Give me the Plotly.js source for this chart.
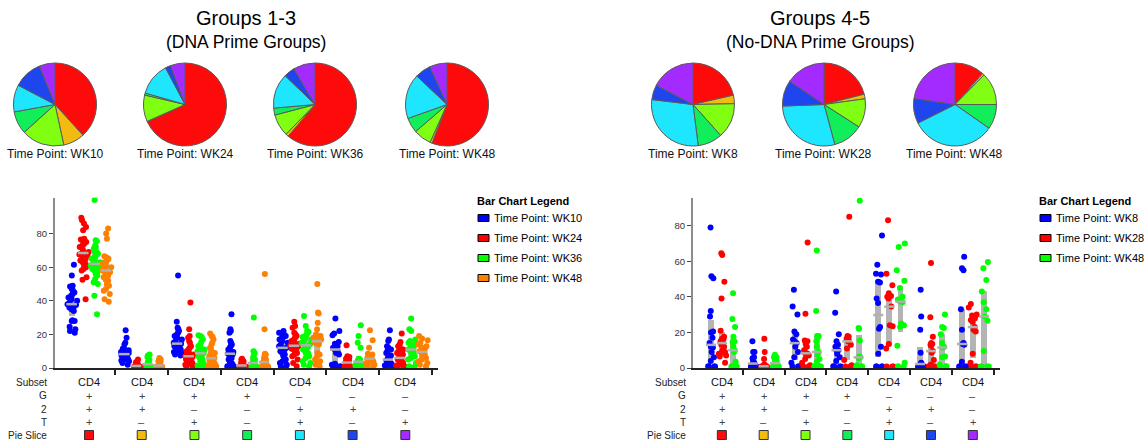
<!DOCTYPE html>
<html><head><meta charset="utf-8">
<script src="https://cdn.plot.ly/plotly-3.0.1.min.js"></script>
<style>html,body{margin:0;padding:0;background:#fff}#chart{width:1145px;height:446px}</style>
</head><body><div id="chart"></div>
<script>
// ---------- categories / table ----------
const subsets = ['CD4','CD4','CD4','CD4','CD4','CD4','CD4'];
const gRow   = ['+','+','+','+','–','–','–'];
const twoRow = ['+','+','–','–','+','+','–'];
const tRow   = ['+','–','+','–','+','–','+'];
const sliceLabels = ['G+2+T+','G+2+T–','G+2–T+','G+2–T–','G–2+T+','G–2+T–','G–2–T+'];
const sliceColors = ['#ff0a0a','#f2bb0f','#80ff12','#12ee5a','#1ee6ff','#1f45ee','#a32bff'];

// ---------- pies ----------
const leftPieNames = ['Time Point: WK10','Time Point: WK24','Time Point: WK36','Time Point: WK48'];
const leftPieWK10 = [38.2, 8.3, 16.7, 8.8, 10.5, 11.2, 6.1];
const leftPieWK24 = [68.4, 0.2, 10.4, 0.8, 12.8, 2.1, 5.7];
const leftPieWK36 = [61.2, 1.1, 8.6, 2.7, 13.6, 4.3, 8.5];
const leftPieWK48 = [56.0, 0.8, 7.0, 5.9, 17.5, 6.2, 6.8];
const rightPieNames = ['Time Point: WK8','Time Point: WK28','Time Point: WK48'];
const rightPieWK8  = [21.4, 3.3, 13.7, 9.6, 28.9, 5.8, 17.3];
const rightPieWK28 = [21.0, 1.8, 11.3, 11.7, 28.6, 10.1, 15.5];
const rightPieWK48 = [11.6, 0.8, 12.6, 9.7, 32.9, 9.7, 22.7];

// ---------- scatter series (per category) ----------
const leftSeriesNames = ['Time Point: WK10','Time Point: WK24','Time Point: WK36','Time Point: WK48'];
const leftSeriesColors = ['#0000ff','#ff0000','#00ff00','#ff8000'];
const leftWK10 = [
  [61.5,55,49,48.5,47,46,45,44,43,42,41,40,39,38,37.5,37,36.5,36,35,34,28.5,28,28,24.5,23,22,21],
  [22.5,18,15,14,11.5,11,10.5,10,9.5,9,8.5,8,7.5,7,6.5,6,5.5,5,4.5,4,3,2],
  [55,27.5,24,23,22,21,20,19,18,17,16,15,14.5,14,13.5,13,12.5,12,11.5,11,10,9.5,9,8,7.5],
  [32,23,22,21,16,15,14,13,12,11,10,9.5,9,8.5,8,7,6,5,4,3,2.5,2,1.5,1,0.8,0.8,0.8],
  [22,21,20.5,20,19,18.5,18,17,16,15,14,13,12,11.5,11,10,9,8,7,5,4,3,2,1,0.8],
  [29.5,22,20.5,19.5,15.5,14.5,13,12,11,10,9,8,2.5,2,1,0.8,0.8],
  [22.5,17,16,13,12,11,10,9,7.5,6,5,4.5,4,3.5,3,2.5,2,1.5,1,0.8,0.8]
];
const leftWK24 = [
  [89.5,88,86,84,82,77,76.5,76,75.5,75,74,73,72,70,69,68,67.5,67,66,65,64,63,62,61,60,59,58,54,52.5,41],
  [5,3.5,3,2.5,2,2,1.5,1.5,1,1,1,0.8,0.8,0.8,0.8,0.8],
  [39,23,19,18,16,15,13,12,11,10,9,8,7.5,7,6.5,6,5.5,5,4.5,4,3.5,3,2.5,2,1.5,1,0.8],
  [5.5,5,4.5,4,3.5,3,2.5,2,2,1.5,1.5,1,1,0.8,0.8,0.8,0.8,0.8,0.8],
  [27.5,25,24,21,20,19,18,17,16,15,14.5,14,13.5,13,12.5,12,11.5,11,10.5,10,9,8,7,5,3,1],
  [13.5,7,6.5,6,5.5,5,4.5,4,3.5,3,2.5,2,1.5,1,1,0.8,0.8,0.8],
  [20.5,15.5,14,13,12,11,10,9,8,7,6,5,4.5,4,3.5,3,2,1.5,1,0.8,0.8]
];
const leftWK36 = [
  [100,76,75.5,73,72,71,70,69,68,67,66,65,64,63,62,61,60.5,60,59.5,59,58,57,56,55,53,51,50,43,32],
  [8,7.5,6.5,5,4,3.5,3,2.5,2,1.5,1,1,0.8,0.8,0.8,0.8],
  [19.5,19,18.5,17,15.5,14,13,12,11,10.5,10,9,8.5,8,7,6,5,4,3,2,1.5,1,0.8,0.8],
  [30,10,9.5,9,7,6,5,4,3.5,3,2.5,2,1.5,1,1,0.8,0.8,0.8,0.8],
  [31,25,22,21.5,20,19,18.5,18,17,16,15,14,13,12.5,11,10,9,8,7,6,4,3,2,1],
  [25.5,19,15,12,5.5,5,4.5,4,3.5,3,2.5,2,1.5,1,0.8,0.8],
  [29.5,23,22,17,16,15,14,13,12,11,10,9,8,7,6,5,3,1,0.8]
];
const leftWK48 = [
  [83,80,77,66.5,66,65.5,65,64,63,62,61,60,59,58,57,56,55,54,53,52,50,49,47,46,44,41,39.5],
  [6,5,4.5,4,3.5,3,2.5,2,1.5,1.5,1,1,0.8,0.8,0.8,0.8,0.8],
  [20.5,19,18.5,17,15,14,12,10,9,8,7,6,5.5,5,4.5,4,3.5,3,2.5,2,1.5,1,0.8,0.8],
  [56,23,8.5,8,7,6,5,4.5,4,3.5,3,2.5,2,1.5,1,1,0.8,0.8,0.8],
  [50,33,32.5,27,23,20,19.5,19,18.5,18,17,16,15.5,15,14.5,14,9,8,7,5,4,2,1],
  [22.5,16.5,12,8.5,8,7,6.5,6,5.5,5,4.5,4,3.5,3,2,1,0.8],
  [19,17.5,16.5,15,14,13,12,11,10,9,8,7,6,5,4,3,2,1]
];

const rightSeriesNames = ['Time Point: WK8','Time Point: WK28','Time Point: WK48'];
const rightSeriesColors = ['#0000ff','#ff0000','#00ff00'];
const rightWK8 = [
  [79,51.5,50.5,32,29,20.5,20,17,14,12,11.5,9,6,4,1,0.8,0.8,0.8],
  [15,9,9,6,5.5,4,3,2,1.5,1,0.8,0.8,0.8,0.8],
  [44,34.5,30,20.5,19,16,15,14,12,9,6,3,1,0.8,0.8],
  [43,31,19,15,13,12,10,10,8,6,4,1,0.8,0.8,0.8],
  [74.5,58,53,52.5,48.5,48,39,36.5,23,22,12,8,0.8,0.8,0.8,0.8],
  [44,29,21.5,8.5,3,2.5,2,1.5,1,0.8,0.8,0.8],
  [62.5,56,55,33,21.5,14,13.5,13,3.5,0.8,0.8,0.8,0.8]
];
const rightWK28 = [
  [64.5,63.5,48.5,39,21,17.5,16.5,16,15,13,12,10,9,8.5,8,7,6.5,3],
  [16.5,9,5,2,1.5,1,1,0.8,0.8,0.8,0.8,0.8],
  [70.5,30.5,15.5,15,13.5,12,10,8.5,8,7.5,7,5,3,1.5,0.8,0.8],
  [85,18,17.5,16.5,16,15.5,15,13,11,4.5,1.5,0.8,0.8],
  [83,53,46.5,42,40.5,40,39,34.5,24,23.5,13.5,11,0.8,0.8,0.8],
  [59,28.5,17.5,14,13.5,13,12.5,9.5,8.5,4.5,2,1,0.8,0.8,0.8],
  [36,34,30,29.5,28,27,26,23,21.5,20.5,8,3,0.8,0.8,0.8]
];
const rightWK48 = [
  [42,27.5,23,17.5,15,14.5,12,10,9,3.5,1,0.8,0.8,0.8,0.8],
  [7.5,6,6,5,4,3.5,2,1,0.8,0.8,0.8,0.8],
  [66,32,18,18,17.5,15,12,9,7.5,5,3.5,1,0.8,0.8,0.8],
  [94,22.5,22,15.5,6.5,6,5.5,1.5,0.8,0.8,0.8],
  [70,68,55,49,45,40,38.5,37.5,37,25,24,23,12.5,3,1,0.8],
  [30,23,22.5,19,14,12,11.5,6.5,6,2,1,0.8,0.8],
  [59.5,56,49.5,43,37,33,29,26.5,9.5,0.8,0.8,0.8,0.8]
];
const yTicks = [0,20,40,60,80];

// ---------- helpers ----------
const W = 1145, H = 446;
const px = x => x / W;
const py = y => 1 - y / H;
function quantile(arr, p) {
  const s = arr.slice().sort((a,b)=>a-b);
  const idx = p * (s.length - 1);
  const lo = Math.floor(idx), hi = Math.ceil(idx);
  return s[lo] + (s[hi] - s[lo]) * (idx - lo);
}

const traces = [];
const annotations = [];
const shapes = [];
const FONT = 'Liberation Sans, Arial, sans-serif';

// pies
function addPies(valueSets, names, centersX) {
  valueSets.forEach((vals, i) => {
    const cx = centersX[i], cy = 104.5, r = 41.5;
    traces.push({
      type: 'pie', values: vals, labels: sliceLabels, sort: false,
      direction: 'clockwise', rotation: 0,
      marker: {colors: sliceColors, line: {color: '#5a5a5a', width: 1}},
      textinfo: 'none', hoverinfo: 'label+percent', showlegend: false,
      domain: {x: [px(cx - r), px(cx + r)], y: [py(cy + r), py(cy - r)]}
    });
    annotations.push({
      xref: 'paper', yref: 'paper', x: px(cx), y: py(154), text: names[i],
      showarrow: false, xanchor: 'center', yanchor: 'middle',
      font: {size: 12, color: '#111', family: FONT}
    });
  });
}
addPies([leftPieWK10, leftPieWK24, leftPieWK36, leftPieWK48], leftPieNames, [55, 185, 315, 447]);
addPies([rightPieWK8, rightPieWK28, rightPieWK48], rightPieNames, [693, 824, 955]);

// scatter groups
function addGroups(seriesSets, colors, offsets, xa, ya, ptWidth, barWidth, medHalf) {
  const barX = [], barBase = [], barLen = [];
  const medX = [], medY = [];
  seriesSets.forEach((series, s) => {
    series.forEach((vals, c) => {
      const pos = c + offsets[s];
      const q1 = quantile(vals, 0.25), q3 = quantile(vals, 0.75), m = quantile(vals, 0.5);
      barX.push(pos - 0.02); barBase.push(q1); barLen.push(Math.max(q3 - q1, 0.3));
      medX.push(pos - 0.02 - medHalf, pos - 0.02 + medHalf, null);
      medY.push(m, m, null);
    });
  });
  traces.push({type: 'bar', x: barX, y: barLen, base: barBase, width: barWidth,
    marker: {color: '#b4b4b4', line: {width: 0}}, xaxis: xa, yaxis: ya,
    showlegend: false, hoverinfo: 'skip'});
  seriesSets.forEach((series, s) => {
    series.forEach((vals, c) => {
      traces.push({
        type: 'box', y: vals, x0: c + offsets[s], width: ptWidth,
        boxpoints: 'all', jitter: 1, pointpos: 0,
        fillcolor: 'rgba(0,0,0,0)', line: {width: 0, color: 'rgba(0,0,0,0)'}, whiskerwidth: 0,
        marker: {color: colors[s], size: 6, line: {width: 0}},
        xaxis: xa, yaxis: ya, showlegend: false, hoverinfo: 'y'
      });
    });
  });
  traces.push({type: 'scatter', mode: 'lines', x: medX, y: medY,
    line: {color: '#b0b0b0', width: 2.5}, xaxis: xa, yaxis: ya,
    showlegend: false, hoverinfo: 'skip', connectgaps: false});
}
addGroups([leftWK10, leftWK24, leftWK36, leftWK48], leftSeriesColors,
  [-0.31, -0.09, 0.13, 0.34], 'x', 'y', 0.2, 0.11, 0.1);
addGroups([rightWK8, rightWK28, rightWK48], rightSeriesColors,
  [-0.24, 0.02, 0.29], 'x2', 'y2', 0.24, 0.14, 0.12);

// titles
[[246, 'Groups 1-3', '(DNA Prime Groups)'], [820, 'Groups 4-5', '(No-DNA Prime Groups)']].forEach(t => {
  annotations.push({xref:'paper', yref:'paper', x: px(t[0]), y: py(18), text: t[1], showarrow:false,
    xanchor:'center', yanchor:'middle', font:{size:20, color:'#000', family: FONT}});
  annotations.push({xref:'paper', yref:'paper', x: px(t[0]), y: py(42), text: t[2], showarrow:false,
    xanchor:'center', yanchor:'middle', font:{size:17.5, color:'#000', family: FONT}});
});

// table under each chart
const rowY = [382, 395.5, 409, 422, 435];
const rowLabels = ['Subset','G','2','T','Pie Slice'];
function addTable(xa, labelRightPx, halfSq) {
  rowLabels.forEach((lab, r) => {
    annotations.push({xref:'paper', yref:'paper', x: px(labelRightPx), y: py(rowY[r]), text: lab,
      showarrow:false, xanchor:'right', yanchor:'middle', font:{size:10, color:'#222', family: FONT}});
  });
  for (let c = 0; c < subsets.length; c++) {
    const rows = [subsets[c], gRow[c], twoRow[c], tRow[c]];
    rows.forEach((txt, r) => {
      annotations.push({xref: xa, yref:'paper', x: c, y: py(rowY[r]), text: txt, showarrow:false,
        xanchor:'center', yanchor:'middle',
        font:{size: r === 0 ? 11 : 11, color: r === 0 ? '#111' : '#444', family: FONT}});
    });
    shapes.push({type:'rect', xref: xa, yref:'paper', x0: c - halfSq, x1: c + halfSq,
      y0: py(rowY[4] + 4.5), y1: py(rowY[4] - 4.5),
      fillcolor: sliceColors[c], line:{color:'#333', width:1}});
  }
}
addTable('x', 49, 0.085);
addTable('x2', 688, 0.108);

// custom legends
function addLegend(leftPx, names, colors) {
  annotations.push({xref:'paper', yref:'paper', x: px(leftPx), y: py(201), text: '<b>Bar Chart Legend</b>',
    showarrow:false, xanchor:'left', yanchor:'middle', font:{size:11, color:'#000', family: FONT}});
  names.forEach((n, i) => {
    const yc = 218 + i * 20;
    shapes.push({type:'rect', xref:'paper', yref:'paper', x0: px(leftPx + 3), x1: px(leftPx + 14),
      y0: py(yc + 3.5), y1: py(yc - 3.5), fillcolor: colors[i], line:{color:'#000', width:1}});
    annotations.push({xref:'paper', yref:'paper', x: px(leftPx + 17), y: py(yc), text: n,
      showarrow:false, xanchor:'left', yanchor:'middle', font:{size:11, color:'#000', family: FONT}});
  });
}
addLegend(475, leftSeriesNames, leftSeriesColors);
addLegend(1037, rightSeriesNames, rightSeriesColors);

const xCommon = {showgrid:false, zeroline:false, showline:true, linecolor:'#222', linewidth:2,
  ticks:'outside', ticklen:5, tickwidth:2, tickcolor:'#222', showticklabels:false,
  tickmode:'array', tickvals:[0.5,1.5,2.5,3.5,4.5,5.5,6.5], fixedrange:true};
const yCommon = {showgrid:false, zeroline:false, showline:true, linecolor:'#8c8c8c', linewidth:2,
  ticks:'outside', ticklen:4, tickwidth:1, tickcolor:'#444', tickmode:'array', tickvals: yTicks,
  tickfont:{size:9.5, color:'#333', family: FONT}, fixedrange:true};

const layout = {
  width: W, height: H, margin:{l:0, r:0, t:0, b:0},
  paper_bgcolor:'#fff', plot_bgcolor:'rgba(0,0,0,0)',
  font:{family: FONT},
  showlegend:false, boxmode:'overlay', barmode:'overlay', bargap:0,
  xaxis: Object.assign({}, xCommon, {domain:[px(55), px(438)], range:[-0.645, 6.62], anchor:'y'}),
  yaxis: Object.assign({}, yCommon, {domain:[py(368), py(197.5)], range:[0, 101.5], anchor:'x'}),
  xaxis2: Object.assign({}, xCommon, {domain:[px(693), px(1000)], range:[-0.69, 6.65], anchor:'y2'}),
  yaxis2: Object.assign({}, yCommon, {domain:[py(368), py(197.7)], range:[0, 95.7], anchor:'x2'}),
  annotations: annotations,
  shapes: shapes
};

Plotly.newPlot('chart', traces, layout, {displayModeBar:false, staticPlot:true});
</script></body></html>
